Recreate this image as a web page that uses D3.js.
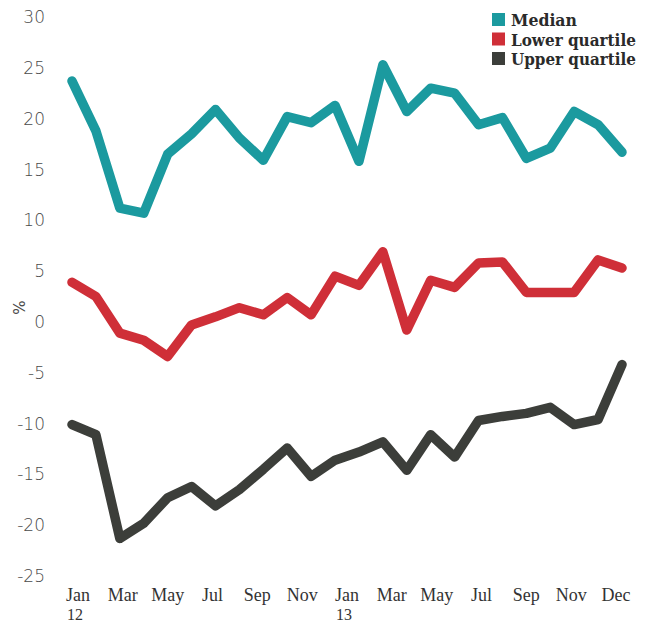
<!DOCTYPE html>
<html>
<head>
<meta charset="utf-8">
<script src="https://cdn.jsdelivr.net/npm/d3@7"></script>
<style>
  html, body { margin: 0; padding: 0; background: #ffffff; }
  svg { display: block; }
</style>
</head>
<body>
<script>
// ---- data ----
const months = ["Jan 12","Feb 12","Mar 12","Apr 12","May 12","Jun 12","Jul 12","Aug 12","Sep 12","Oct 12","Nov 12","Dec 12",
                "Jan 13","Feb 13","Mar 13","Apr 13","May 13","Jun 13","Jul 13","Aug 13","Sep 13","Oct 13","Nov 13","Dec 13"];
const median = [23.7, 18.8, 11.2, 10.7, 16.5, 18.5, 20.9, 18.1, 15.9, 20.2, 19.6, 21.3,
                15.8, 25.3, 20.7, 23.0, 22.5, 19.4, 20.1, 16.1, 17.1, 20.7, 19.4, 16.7];
const lowerQuartile = [3.9, 2.5, -1.1, -1.8, -3.4, -0.3, 0.5, 1.4, 0.7, 2.4, 0.7, 4.5,
                3.6, 6.9, -0.8, 4.1, 3.4, 5.8, 5.9, 2.9, 2.9, 2.9, 6.1, 5.3];
const upperQuartile = [-10.1, -11.1, -21.3, -19.8, -17.3, -16.2, -18.1, -16.5, -14.5, -12.4, -15.2, -13.6,
                -12.8, -11.8, -14.6, -11.1, -13.3, -9.7, -9.3, -9.0, -8.4, -10.1, -9.6, -4.2];
const yTicks = [30, 25, 20, 15, 10, 5, 0, -5, -10, -15, -20, -25];
const xTickLabels = [["Jan","12"],["Mar",""],["May",""],["Jul",""],["Sep",""],["Nov",""],
                     ["Jan","13"],["Mar",""],["May",""],["Jul",""],["Sep",""],["Nov",""],["Dec",""]];
const seriesNames = ["Median", "Lower quartile", "Upper quartile"];
const seriesColors = ["#1b9a9f", "#cf2f38", "#3c3e3a"];

// ---- chart ----
const W = 651, H = 625;
const svg = d3.select("body").append("svg").attr("width", W).attr("height", H);

const x = d3.scaleLinear().domain([0, months.length - 1]).range([72, 622]);
const y = d3.scaleLinear().domain([-25, 30]).range([576, 17]);
const xLab = d3.scalePoint().domain(d3.range(xTickLabels.length)).range([78, 616]);

// y axis labels
const yAxis = svg.append("g");
yAxis.selectAll("text").data(yTicks).join("text")
  .attr("x", 45).attr("y", d => y(d)).attr("dy", "0.36em")
  .attr("text-anchor", "end")
  .attr("font-family", "'DejaVu Sans', sans-serif")
  .attr("font-weight", 300)
  .attr("font-size", 17)
  .attr("fill", "#4a4a4a")
  .text(d => d);

svg.append("text")
  .attr("transform", `translate(20, ${y(1.4)}) rotate(-90)`)
  .attr("text-anchor", "middle")
  .attr("dy", "0.36em")
  .attr("font-family", "'DejaVu Sans', sans-serif")
  .attr("font-size", 15)
  .attr("fill", "#4a4a4a")
  .text("%");

// x axis labels
const xg = svg.append("g");
xTickLabels.forEach((lab, i) => {
  const t = xg.append("text")
    .attr("x", xLab(i)).attr("y", 601)
    .attr("text-anchor", "middle")
    .attr("font-family", "'Liberation Serif', serif")
    .attr("font-size", 18)
    .attr("fill", "#333")
    .text(lab[0]);
  if (lab[1]) {
    const bb = t.node().getBBox();
    xg.append("text")
      .attr("x", bb.x + 1).attr("y", 620)
      .attr("text-anchor", "start")
      .attr("font-family", "'Liberation Serif', serif")
      .attr("font-size", 16)
      .attr("fill", "#333")
      .text(lab[1]);
  }
});

// lines
const line = d3.line().x((d, i) => x(i)).y(d => y(d));
[median, lowerQuartile, upperQuartile].forEach((s, k) => {
  svg.append("path")
    .datum(s)
    .attr("d", line)
    .attr("fill", "none")
    .attr("stroke", seriesColors[k])
    .attr("stroke-width", 9.5)
    .attr("stroke-linejoin", "round")
    .attr("stroke-linecap", "round");
});

// legend
const lg = svg.append("g").attr("transform", "translate(492,13)");
seriesNames.forEach((n, i) => {
  lg.append("rect").attr("x", 0).attr("y", i * 19.5).attr("width", 13).attr("height", 13)
    .attr("fill", seriesColors[i]);
  const t = lg.append("text")
    .attr("font-family", "'DejaVu Serif', serif")
    .attr("font-weight", "bold")
    .attr("font-size", 17.5)
    .attr("fill", "#2a2a2a")
    .text(n);
  const target = n === "Median" ? 66 : 125;
  const natural = t.node().getComputedTextLength();
  t.attr("transform", `translate(19, ${i * 19.5 + 13}) scale(${target / natural}, 1)`);
});
</script>
</body>
</html>
